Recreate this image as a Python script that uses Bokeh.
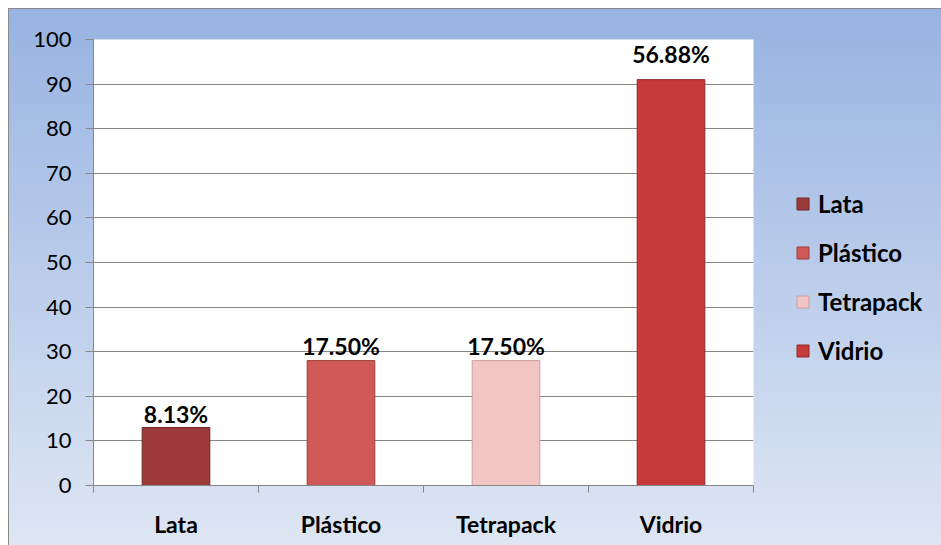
from bokeh.plotting import figure
from bokeh.models import FixedTicker, Range1d, ColumnDataSource, LabelSet, Legend, LegendItem
from bokeh.core.properties import value
from bokeh.embed import file_html
from bokeh.resources import INLINE

categories = ["Lata", "Plástico", "Tetrapack", "Vidrio"]
values = [13, 28, 28, 91]
pct_labels = ["8.13%", "17.50%", "17.50%", "56.88%"]
y_ticks = [0, 10, 20, 30, 40, 50, 60, 70, 80, 90, 100]

colors = ["#9C3B39", "#CF5956", "#F3C4C4", "#C63B3A"]
edge_colors = ["#6E2624", "#9E3E3B", "#C9A0A0", "#8E2A29"]
label_offsets = [5, 6, 6, 17]

FONT = "Lato"
x_centers = [i + 0.5 for i in range(len(categories))]

src = ColumnDataSource(dict(
    x=x_centers, top=values, cat=categories, color=colors, edge=edge_colors,
    lab=pct_labels, off=label_offsets,
))

p = figure(frame_width=660, frame_height=446, x_range=Range1d(0, len(categories)),
           y_range=Range1d(0, 100), output_backend="svg", toolbar_location=None,
           min_border_left=84, min_border_right=188, min_border_top=30,
           min_border_bottom=60)
p.styles = {
    "margin-left": "9px", "margin-top": "9px",
    "background": "linear-gradient(to bottom, #98B3E2 0%, #DEE6F3 100%)",
    "outline": "1.5px solid #8A8A8A",
}
p.border_fill_alpha = 0
p.background_fill_color = "white"
p.outline_line_color = None

bars = p.vbar(x="x", top="top", width=0.41, fill_color="color", line_color="edge",
              line_width=1, source=src)

labels = LabelSet(x="x", y="top", text="lab", y_offset="off", source=src,
                  text_align="center", text_baseline="alphabetic",
                  text_font=value(FONT), text_font_style="bold",
                  text_font_size="23px", text_color="black")
p.add_layout(labels)

# y axis
p.yaxis.ticker = FixedTicker(ticks=y_ticks)
p.yaxis.axis_line_color = "#868686"
p.yaxis.major_tick_line_color = "#868686"
p.yaxis.major_tick_out = 8
p.yaxis.major_tick_in = 0
p.yaxis.minor_tick_line_color = None
p.yaxis.major_label_standoff = 14
p.yaxis.major_label_text_font = FONT
p.yaxis.major_label_text_font_size = "22px"
p.yaxis.major_label_text_color = "black"

# x axis
p.xaxis.ticker = FixedTicker(ticks=x_centers, minor_ticks=list(range(len(categories) + 1)))
p.xaxis.major_label_overrides = {xc: c for xc, c in zip(x_centers, categories)}
p.xaxis.axis_line_color = "#868686"
p.xaxis.major_tick_line_color = None
p.xaxis.minor_tick_line_color = "#868686"
p.xaxis.minor_tick_out = 7
p.xaxis.minor_tick_in = 0
p.xaxis.major_label_standoff = 17
p.xaxis.major_label_text_font = FONT
p.xaxis.major_label_text_font_style = "bold"
p.xaxis.major_label_text_font_size = "23px"
p.xaxis.major_label_text_color = "black"

p.xgrid.grid_line_color = None
p.ygrid.ticker = FixedTicker(ticks=y_ticks)
p.ygrid.grid_line_color = "#868686"
p.ygrid.grid_line_width = 1

items = [LegendItem(label=c, renderers=[bars], index=i) for i, c in enumerate(categories)]
lg = Legend(items=items, location=(42, 120))
lg.background_fill_alpha = 0
lg.border_line_color = None
lg.padding = 0
lg.margin = 0
lg.glyph_width = 15
lg.glyph_height = 15
lg.label_standoff = 8
lg.spacing = 20
lg.label_text_font = FONT
lg.label_text_font_style = "bold"
lg.label_text_font_size = "24px"
lg.label_text_color = "black"
p.add_layout(lg, "right")

open("out.html", "w").write(file_html(p, INLINE))
